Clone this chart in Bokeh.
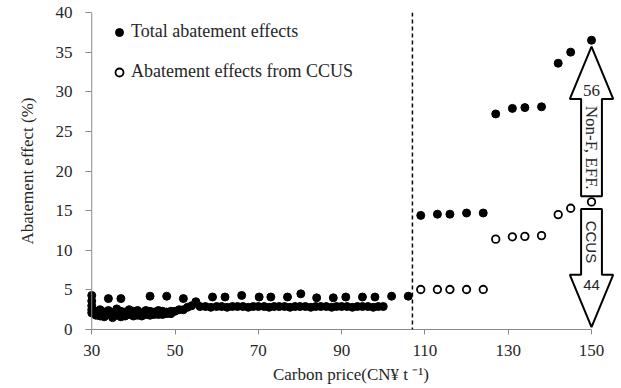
import math

from bokeh.core.properties import value
from bokeh.embed import file_html
from bokeh.models import FixedTicker, Legend, LegendItem, Range1d, Span
from bokeh.plotting import figure
from bokeh.resources import INLINE

# Total abatement effect (%) at each simulated carbon price (CNY per tonne)
total_price = [
    30, 30, 30, 30, 30, 31, 31, 32, 32, 33, 33, 34, 34, 34, 35, 35, 36, 36,
    37, 37, 37, 38, 38, 39, 39, 40, 40, 41, 41, 42, 42, 43, 43, 44, 44, 44,
    45, 45, 46, 46, 47, 47, 48, 48, 48, 49, 49, 50, 51, 52, 52, 53, 54, 55,
    56.0, 57.3, 58.6, 59, 60.0, 61.2, 62, 62.5, 63.8, 65.0, 66, 66.3, 67.6,
    68.8, 70.0, 70.2, 71.4, 72.6, 73, 73.8, 75.0, 76.3, 77, 77.6, 78.8, 80.0,
    80.2, 81.3, 82.6, 83.8, 84, 85.0, 86.3, 87.6, 88, 88.8, 90.0, 91, 91.3,
    92.6, 93.8, 95, 95.0, 96.3, 97.6, 98, 98.8, 100.0, 102, 106,
    109, 113, 116, 120, 124, 127, 131, 134, 138, 142, 145, 150,
]
total_effect = [
    4.3, 3.6, 3.0, 2.5, 2.1, 2.3, 1.8, 2.5, 1.7, 2.2, 1.6, 3.9, 2.4, 1.9, 2.1, 1.5, 2.6, 1.8,
    3.9, 2.3, 1.6, 2.2, 1.7, 2.5, 1.9, 2.3, 1.7, 2.4, 1.8, 2.1, 1.7, 2.4, 1.9, 4.2, 2.3, 1.8,
    2.2, 1.9, 2.4, 1.9, 2.3, 1.9, 4.2, 2.2, 2.0, 2.3, 2.0, 2.3, 2.5, 3.9, 2.5, 2.8, 3.0, 3.5,
    2.9, 2.9, 2.8, 4.1, 2.9, 2.9, 4.1, 2.8, 2.9, 2.9, 4.3, 2.9, 2.8,
    2.9, 2.9, 4.1, 2.9, 2.8, 4.1, 2.9, 2.9, 2.9, 4.1, 2.8, 2.9, 2.9,
    4.5, 2.9, 2.8, 2.9, 4.0, 2.9, 2.9, 2.8, 4.0, 2.9, 2.9, 4.1, 2.9,
    2.8, 2.9, 4.1, 2.9, 2.9, 2.8, 4.1, 2.9, 2.9, 4.2, 4.2,
    14.4, 14.55, 14.55, 14.7, 14.7, 27.2, 27.9, 28.0, 28.1, 33.6, 35.0, 36.5,
]

# Part of the abatement delivered by CCUS, once it is deployed
ccus_price = [109, 113, 116, 120, 124, 127, 131, 134, 138, 142, 145, 150]
ccus_effect = [5.05, 5.05, 5.05, 5.05, 5.05, 11.4, 11.7, 11.75, 11.85, 14.5, 15.3, 16.1]

threshold_price = 107
price_min = 30
x_ticks = [30, 50, 70, 90, 110, 130, 150]
y_ticks = [0, 5, 10, 15, 20, 25, 30, 35, 40]

SERIF = "Liberation Serif"
SANS = "Liberation Sans"
AXIS_GREY = "#8a8a8a"
TEXT = "#262626"

# The frame starts a little left of the lowest price so that markers sitting
# on the y axis are drawn whole; the y axis line is drawn at the lowest price.
p = figure(
    width=621, height=388,
    output_backend="svg", toolbar_location=None,
    x_range=Range1d(28.5, 156), y_range=Range1d(0, 40),
    min_border_left=85, min_border_right=5,
    min_border_top=12, min_border_bottom=59,
)
p.outline_line_color = None
p.xgrid.visible = False
p.ygrid.visible = False

for ax in (p.xaxis[0], p.yaxis[0]):
    ax.axis_line_color = AXIS_GREY
    ax.major_tick_line_color = AXIS_GREY
    ax.minor_tick_line_color = None
    ax.major_tick_in = 0
    ax.major_tick_out = 5
    ax.major_label_text_font = SERIF
    ax.major_label_text_font_size = "17px"
    ax.major_label_text_color = TEXT
    ax.axis_label_text_font = SERIF
    ax.axis_label_text_font_size = "17px"
    ax.axis_label_text_font_style = "normal"
    ax.axis_label_text_color = TEXT

p.xaxis.bounds = (price_min, 150)
p.xaxis.ticker = FixedTicker(ticks=x_ticks)
p.xaxis.axis_label = "Carbon price(CN¥ t ⁻¹)"
p.xaxis.major_label_standoff = 10
p.xaxis.axis_label_standoff = 6

# y axis: ticks reach in from the frame edge to the axis line at price_min
p.yaxis.axis_line_color = None
p.yaxis.major_tick_in = 6
p.yaxis.major_tick_out = 0
p.yaxis.ticker = FixedTicker(ticks=y_ticks)
p.yaxis.axis_label = "Abatement effect (%)"
p.yaxis.major_label_standoff = 13
p.yaxis.axis_label_standoff = 16
p.add_layout(Span(location=price_min, dimension="height",
                  line_color=AXIS_GREY, line_width=1))

# Price at which CCUS enters the mix
p.add_layout(Span(location=threshold_price, dimension="height",
                  line_color="black", line_width=1.5, line_dash="4 3"))


def block_arrow(x, base, tip, shaft_half, head_half, head_len):
    """Outline of a block arrow running from base to tip along x."""
    direction = 1 if tip > base else -1
    neck = tip - direction * head_len
    xs = [x - shaft_half, x - shaft_half, x - head_half, x,
          x + head_half, x + shaft_half, x + shaft_half]
    ys = [base, neck, neck, tip, neck, neck, base]
    return xs, ys, neck


# Split of the abatement at the highest price
x_end = total_price[-1]
top = total_effect[-1]
mid = ccus_effect[-1]
share_other = round((top - mid) / top * 100)
share_ccus = round(mid / top * 100)

SHAFT, HEAD, HEAD_LEN = 2.5, 5.2, 6.6
up_x, up_y, up_neck = block_arrow(x_end, mid + 0.7, top - 0.8, SHAFT, HEAD, HEAD_LEN)
dn_x, dn_y, dn_neck = block_arrow(x_end, mid - 0.9, 0.3, SHAFT, HEAD, HEAD_LEN)
for xs, ys in ((up_x, up_y), (dn_x, dn_y)):
    p.patch(xs, ys, fill_color="white", line_color="black", line_width=2)

p.text(x=[x_end], y=[up_neck + 1.1], text=[str(share_other)],
       text_align="center", text_baseline="middle",
       text_font=value(SERIF), text_font_size="17px", text_color=TEXT)
p.text(x=[x_end], y=[(mid + 0.7 + up_neck) / 2], text=["Non-F, EFF."],
       angle=-math.pi / 2, text_align="center", text_baseline="middle",
       text_font=value(SERIF), text_font_size="17px", text_color=TEXT)
p.text(x=[x_end], y=[(mid - 0.9 + dn_neck) / 2], text=["CCUS"],
       angle=-math.pi / 2, text_align="center", text_baseline="middle",
       text_font=value(SANS), text_font_size="15px", text_color=TEXT)
p.text(x=[x_end], y=[dn_neck - 1.3], text=[str(share_ccus)],
       text_align="center", text_baseline="middle",
       text_font=value(SANS), text_font_size="15px", text_color=TEXT)

r_total = p.scatter(total_price, total_effect, size=8,
                    fill_color="black", line_color="black")
r_ccus = p.scatter(ccus_price, ccus_effect, size=7.5,
                   fill_color="white", line_color="black", line_width=1.8)

legend = Legend(
    items=[LegendItem(label="Total abatement effects", renderers=[r_total]),
           LegendItem(label="Abatement effects from CCUS", renderers=[r_ccus])],
    location=(24, 247),
    glyph_width=20, glyph_height=20, label_height=20,
    label_standoff=2, spacing=19, padding=0, margin=0,
    border_line_color=None, background_fill_alpha=0,
    label_text_font=SERIF, label_text_font_size="18px", label_text_color=TEXT,
)
p.add_layout(legend)

open("out.html", "w").write(file_html(p, INLINE))
